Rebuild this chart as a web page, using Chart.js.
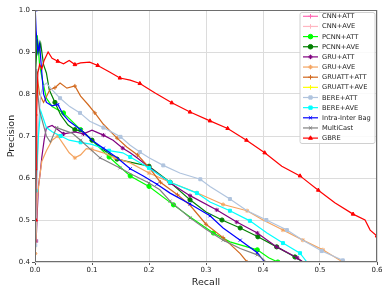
<!DOCTYPE html>
<html>
<head>
<meta charset="utf-8">
<script src="https://cdn.jsdelivr.net/npm/chart.js@4.4.1/dist/chart.umd.min.js"></script>
<style>
html,body{margin:0;padding:0;background:#fff;}
canvas{display:block;}
</style>
</head>
<body>
<canvas id="c" width="390" height="293" style="width:390px;height:293px"></canvas>
<script>
// ---- tick labels ----
const xTickLabels = ['0.0','0.1','0.2','0.3','0.4','0.5','0.6'];
const yTickLabels = ['0.4','0.5','0.6','0.7','0.8','0.9','1.0'];

// ---- series names ----
const seriesNames = ['CNN+ATT','CNN+AVE','PCNN+ATT','PCNN+AVE','GRU+ATT','GRU+AVE','GRUATT+ATT','GRUATT+AVE','BERE+ATT','BERE+AVE','Intra-Inter Bag','MultiCast','GBRE'];

// ---- series values (recall / precision) ----
const cnnAttRecall = [];
const cnnAttPrecision = [];
const cnnAveRecall = [];
const cnnAvePrecision = [];

const pcnnAttRecall = [0.001,0.004,0.008,0.012,0.02,0.03,0.05,0.08,0.1,0.13,0.167,0.2,0.243,0.272,0.313,0.342,0.39,0.41,0.426];
const pcnnAttPrecision = [0.90,0.94,0.87,0.84,0.79,0.77,0.755,0.715,0.69,0.65,0.605,0.58,0.536,0.507,0.469,0.448,0.429,0.41,0.40];

const pcnnAveRecall = [0.001,0.004,0.007,0.01,0.015,0.02,0.025,0.035,0.045,0.058,0.07,0.085,0.1,0.12,0.144,0.167,0.2,0.237,0.272,0.3,0.328,0.36,0.391,0.424,0.456,0.47];
const pcnnAvePrecision = [0.85,0.93,0.90,0.92,0.87,0.85,0.81,0.78,0.75,0.726,0.715,0.71,0.69,0.667,0.645,0.638,0.628,0.59,0.548,0.519,0.50,0.481,0.46,0.436,0.412,0.40];

const gruAttRecall = [0.002,0.004,0.006,0.009,0.012,0.016,0.02,0.03,0.05,0.07,0.085,0.1,0.12,0.137,0.154,0.167,0.179,0.2,0.237,0.272,0.319,0.354,0.39,0.424,0.46,0.47];
const gruAttPrecision = [0.45,0.52,0.58,0.61,0.65,0.69,0.72,0.725,0.705,0.71,0.705,0.714,0.702,0.69,0.671,0.66,0.648,0.626,0.588,0.558,0.524,0.495,0.469,0.436,0.41,0.40];

const gruAveRecall = [0.0005,0.002,0.004,0.008,0.012,0.02,0.03,0.04,0.05,0.06,0.07,0.08,0.09,0.1,0.12,0.14,0.167,0.2,0.237,0.284,0.33,0.372,0.4,0.435,0.47,0.505,0.54];
const gruAvePrecision = [0.42,0.46,0.55,0.60,0.64,0.665,0.69,0.70,0.68,0.66,0.648,0.655,0.67,0.668,0.66,0.648,0.636,0.612,0.59,0.565,0.537,0.522,0.50,0.476,0.452,0.429,0.40];

const gruattAttRecall = [0.001,0.004,0.008,0.015,0.026,0.035,0.044,0.056,0.07,0.08,0.093,0.105,0.12,0.144,0.161,0.18,0.2,0.22,0.25,0.272,0.3,0.33,0.36,0.372];
const gruattAttPrecision = [0.75,0.84,0.80,0.78,0.81,0.815,0.826,0.814,0.819,0.795,0.775,0.755,0.728,0.695,0.674,0.655,0.625,0.59,0.56,0.535,0.49,0.458,0.42,0.40];

const gruattAveRecall = [];
const gruattAvePrecision = [];

const bereAttRecall = [0.0005,0.002,0.004,0.006,0.01,0.015,0.02,0.03,0.044,0.061,0.079,0.096,0.12,0.15,0.167,0.184,0.2,0.225,0.254,0.29,0.307,0.342,0.372,0.406,0.442,0.47,0.503,0.54,0.545];
const bereAttPrecision = [0.44,0.50,0.62,0.72,0.80,0.82,0.826,0.81,0.79,0.77,0.755,0.735,0.72,0.698,0.678,0.662,0.648,0.63,0.612,0.597,0.58,0.55,0.522,0.50,0.476,0.452,0.426,0.404,0.40];

const bereAveRecall = [0.001,0.003,0.006,0.01,0.015,0.02,0.03,0.045,0.06,0.08,0.1,0.13,0.154,0.167,0.2,0.237,0.284,0.307,0.342,0.377,0.407,0.435,0.465,0.477];
const bereAvePrecision = [0.57,0.62,0.70,0.76,0.74,0.72,0.71,0.70,0.69,0.685,0.68,0.665,0.66,0.65,0.624,0.59,0.564,0.543,0.522,0.498,0.469,0.445,0.421,0.40];

const intraInterRecall = [0.0005,0.002,0.005,0.008,0.012,0.015,0.02,0.03,0.04,0.05,0.06,0.08,0.1,0.12,0.144,0.167,0.19,0.214,0.237,0.272,0.307,0.33,0.36,0.39,0.40,0.403];
const intraInterPrecision = [1.0,0.95,0.90,0.92,0.85,0.80,0.78,0.772,0.775,0.75,0.735,0.715,0.69,0.671,0.648,0.622,0.605,0.585,0.564,0.538,0.51,0.481,0.452,0.422,0.405,0.40];

const multiCastRecall = [0.001,0.003,0.005,0.008,0.012,0.02,0.027,0.038,0.05,0.065,0.08,0.096,0.114,0.149,0.172,0.2,0.219,0.237,0.272,0.3,0.33,0.36,0.39,0.40,0.405];
const multiCastPrecision = [0.80,0.86,0.80,0.76,0.74,0.70,0.685,0.72,0.714,0.707,0.69,0.67,0.648,0.624,0.607,0.588,0.572,0.545,0.505,0.478,0.452,0.432,0.417,0.407,0.40];

const gbreRecall = [0.001,0.002,0.003,0.005,0.008,0.012,0.016,0.023,0.03,0.04,0.05,0.06,0.07,0.08,0.096,0.11,0.13,0.149,0.167,0.184,0.21,0.24,0.272,0.307,0.338,0.371,0.403,0.433,0.465,0.497,0.526,0.558,0.579,0.588,0.6];
const gbrePrecision = [0.50,0.62,0.76,0.85,0.87,0.86,0.88,0.90,0.885,0.878,0.872,0.88,0.87,0.874,0.876,0.868,0.853,0.838,0.833,0.825,0.803,0.779,0.757,0.736,0.718,0.69,0.66,0.628,0.605,0.571,0.541,0.514,0.50,0.476,0.462];

// ---- styles ----
const seriesStyles = [
  {color:'#ff69b4', marker:'cross'},
  {color:'#ffb6c1', marker:'cross'},
  {color:'#00ff00', marker:'circle'},
  {color:'#008000', marker:'circle'},
  {color:'#800080', marker:'star'},
  {color:'#f4a460', marker:'star'},
  {color:'#d2691e', marker:'cross'},
  {color:'#ffff00', marker:'cross'},
  {color:'#b0c4de', marker:'rect'},
  {color:'#00ffff', marker:'rect'},
  {color:'#0000ff', marker:'crossRot'},
  {color:'#808080', marker:'crossRot'},
  {color:'#ff0000', marker:'triangle'}
];

const seriesData = [
  [cnnAttRecall, cnnAttPrecision],
  [cnnAveRecall, cnnAvePrecision],
  [pcnnAttRecall, pcnnAttPrecision],
  [pcnnAveRecall, pcnnAvePrecision],
  [gruAttRecall, gruAttPrecision],
  [gruAveRecall, gruAvePrecision],
  [gruattAttRecall, gruattAttPrecision],
  [gruattAveRecall, gruattAvePrecision],
  [bereAttRecall, bereAttPrecision],
  [bereAveRecall, bereAvePrecision],
  [intraInterRecall, intraInterPrecision],
  [multiCastRecall, multiCastPrecision],
  [gbreRecall, gbrePrecision]
];

function markerFlags(xs, gap) {
  let last = -1;
  return xs.map(x => { if (x - last >= gap) { last = x; return true; } return false; });
}

const n = seriesNames.length;
const datasets = seriesNames.map((name, i) => {
  const [rx, py] = seriesData[i];
  const flags = markerFlags(rx, 0.03);
  const st = seriesStyles[i];
  return {
    label: name,
    data: rx.map((x, k) => ({x: x, y: py[k]})),
    borderColor: st.color,
    backgroundColor: st.color,
    pointBackgroundColor: st.color,
    pointBorderColor: st.color,
    pointStyle: st.marker,
    pointBorderWidth: 1,
    pointRadius: ctx => flags[ctx.dataIndex] ? 2.1 : 0,
    pointHoverRadius: 0,
    borderWidth: 1.2,
    tension: 0,
    fill: false,
    order: n - i
  };
});

const frameLegendPlugin = {
  id: 'frameLegend',
  afterDatasetsDraw(chart) {
    const ctx = chart.ctx;
    const a = chart.chartArea;
    ctx.save();
    ctx.strokeStyle = '#6e6e6e';
    ctx.lineWidth = 1;
    ctx.strokeRect(Math.round(a.left) + 0.5, Math.round(a.top) + 0.5, Math.round(a.right - a.left) - 1, Math.round(a.bottom - a.top) - 1);

    // legend
    const w = 75, h = 131;
    const lx = a.right - 2 - w, ly = a.top + 2.5;
    const r = 2;
    ctx.beginPath();
    ctx.moveTo(lx + r, ly);
    ctx.lineTo(lx + w - r, ly); ctx.arcTo(lx + w, ly, lx + w, ly + r, r);
    ctx.lineTo(lx + w, ly + h - r); ctx.arcTo(lx + w, ly + h, lx + w - r, ly + h, r);
    ctx.lineTo(lx + r, ly + h); ctx.arcTo(lx, ly + h, lx, ly + h - r, r);
    ctx.lineTo(lx, ly + r); ctx.arcTo(lx, ly, lx + r, ly, r);
    ctx.closePath();
    ctx.fillStyle = 'rgba(255,255,255,0.85)';
    ctx.fill();
    ctx.strokeStyle = '#d0d0d0';
    ctx.stroke();

    chart.data.datasets.forEach((ds, i) => {
      const y = ly + 3.8 + i * 10.15;
      ctx.strokeStyle = ds.borderColor;
      ctx.lineWidth = 1.2;
      ctx.beginPath();
      ctx.moveTo(lx + 3, y); ctx.lineTo(lx + 18, y);
      ctx.stroke();
      if (Chart.helpers && Chart.helpers.drawPoint) {
        ctx.fillStyle = ds.borderColor;
        ctx.lineWidth = 1;
        Chart.helpers.drawPoint(ctx, {pointStyle: ds.pointStyle, radius: 2.3, rotation: 0, borderWidth: 1}, lx + 10.5, y);
      }
      ctx.fillStyle = '#222';
      ctx.font = '6.7px "DejaVu Sans"';
      ctx.textBaseline = 'middle';
      ctx.textAlign = 'left';
      ctx.fillText(ds.label, lx + 22, y + 0.3);
    });
    ctx.restore();
  }
};

new Chart(document.getElementById('c'), {
  type: 'line',
  data: { datasets: datasets },
  options: {
    responsive: false,
    animation: false,
    devicePixelRatio: 1,
    layout: { padding: { top: 10, right: 13, left: 0, bottom: 0 } },
    plugins: { legend: { display: false }, tooltip: { enabled: false } },
    scales: {
      x: {
        type: 'linear', min: 0, max: 0.6,
        afterFit: s => { s.height = 31; },
        ticks: {
          stepSize: 0.1, autoSkip: false, maxRotation: 0,
          color: '#222', padding: 1,
          font: { family: 'DejaVu Sans', size: 7 },
          callback: (v, i) => xTickLabels[i]
        },
        grid: { color: '#dcdcdc', lineWidth: 1, tickLength: 3, tickColor: '#555', drawTicks: true },
        border: { display: false },
        title: { display: true, text: 'Recall', color: '#222', font: { family: 'DejaVu Sans', size: 9.5 }, padding: { top: 0, bottom: 5 } }
      },
      y: {
        type: 'linear', min: 0.4, max: 1.0,
        afterFit: s => { s.width = 35; },
        ticks: {
          stepSize: 0.1, autoSkip: false,
          color: '#222', padding: 2,
          font: { family: 'DejaVu Sans', size: 7 },
          callback: (v, i) => yTickLabels[i]
        },
        grid: { color: '#dcdcdc', lineWidth: 1, tickLength: 3, tickColor: '#555', drawTicks: true },
        border: { display: false },
        title: { display: true, text: 'Precision', color: '#222', font: { family: 'DejaVu Sans', size: 9.5 }, padding: { top: 6, bottom: 0 } }
      }
    }
  },
  plugins: [frameLegendPlugin]
});
</script>
</body>
</html>
